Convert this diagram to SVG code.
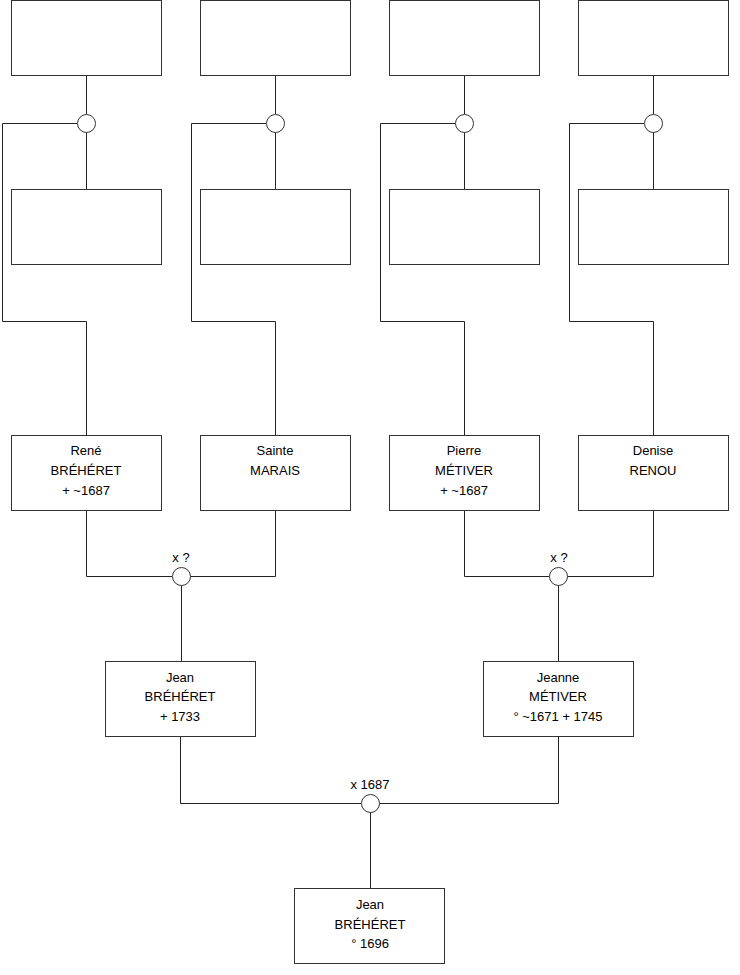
<svg xmlns="http://www.w3.org/2000/svg" width="740" height="975" viewBox="0 0 740 975">
<style>
.box{fill:#fff;stroke:#333;stroke-width:1}
.u{fill:#fff;stroke:#333;stroke-width:1}
.c{fill:none;stroke:#222;stroke-width:1}
text{font-family:"Liberation Sans",Arial,sans-serif;font-size:13px;fill:#000;text-anchor:middle}
</style>
<rect width="740" height="975" fill="#fff"/>
<g id="connectors">
<path class="c" d="M86.5 75V114M86.5 132V189M77 123.5H2.5V321.5H86.5V435"/>
<path class="c" d="M275.5 75V114M275.5 132V189M266 123.5H191.5V321.5H275.5V435"/>
<path class="c" d="M464.5 75V114M464.5 132V189M455 123.5H380.5V321.5H464.5V435"/>
<path class="c" d="M653.5 75V114M653.5 132V189M644 123.5H569.5V321.5H653.5V435"/>
<path class="c" d="M86.5 511V576.5H172M275.5 511V576.5H190M181.5 585V661"/>
<path class="c" d="M464.5 511V576.5H549M653.5 511V576.5H567M558.5 585V661"/>
<path class="c" d="M180.5 737V803.5H361M558.5 737V803.5H379M370.5 812V888"/>
</g>
<g id="u1"><circle class="u" cx="86.5" cy="123.5" r="9"/></g>
<g id="u2"><circle class="u" cx="275.5" cy="123.5" r="9"/></g>
<g id="u3"><circle class="u" cx="464.5" cy="123.5" r="9"/></g>
<g id="u4"><circle class="u" cx="653.5" cy="123.5" r="9"/></g>
<g id="u5"><circle class="u" cx="181.5" cy="576.5" r="9"/><text x="181" y="562">x ?</text></g>
<g id="u6"><circle class="u" cx="558.5" cy="576.5" r="9"/><text x="559" y="562">x ?</text></g>
<g id="u7"><circle class="u" cx="370.5" cy="803.5" r="9"/><text x="370" y="789">x 1687</text></g>
<g id="g1"><rect class="box" x="11.5" y="0.5" width="150" height="75"/></g>
<g id="g2"><rect class="box" x="200.5" y="0.5" width="150" height="75"/></g>
<g id="g3"><rect class="box" x="389.5" y="0.5" width="150" height="75"/></g>
<g id="g4"><rect class="box" x="578.5" y="0.5" width="150" height="75"/></g>
<g id="g5"><rect class="box" x="11.5" y="189.5" width="150" height="75"/></g>
<g id="g6"><rect class="box" x="200.5" y="189.5" width="150" height="75"/></g>
<g id="g7"><rect class="box" x="389.5" y="189.5" width="150" height="75"/></g>
<g id="g8"><rect class="box" x="578.5" y="189.5" width="150" height="75"/></g>
<g id="rene"><rect class="box" x="11.5" y="435.5" width="150" height="75"/><text x="86" y="455">René</text><text x="86" y="475">BRÉHÉRET</text><text x="86" y="495">+ ~1687</text></g>
<g id="sainte"><rect class="box" x="200.5" y="435.5" width="150" height="75"/><text x="275" y="455">Sainte</text><text x="275" y="475">MARAIS</text></g>
<g id="pierre"><rect class="box" x="389.5" y="435.5" width="150" height="75"/><text x="464" y="455">Pierre</text><text x="464" y="475">MÉTIVER</text><text x="464" y="495">+ ~1687</text></g>
<g id="denise"><rect class="box" x="578.5" y="435.5" width="150" height="75"/><text x="653" y="455">Denise</text><text x="653" y="475">RENOU</text></g>
<g id="jean1"><rect class="box" x="105.5" y="661.5" width="150" height="75"/><text x="180" y="682">Jean</text><text x="180" y="701">BRÉHÉRET</text><text x="180" y="721">+ 1733</text></g>
<g id="jeanne"><rect class="box" x="483.5" y="661.5" width="150" height="75"/><text x="558" y="682">Jeanne</text><text x="558" y="701">MÉTIVER</text><text x="558" y="721">° ~1671 + 1745</text></g>
<g id="jean2"><rect class="box" x="294.5" y="888.5" width="150" height="75"/><text x="370" y="909">Jean</text><text x="370" y="929">BRÉHÉRET</text><text x="370" y="948">° 1696</text></g>
</svg>
